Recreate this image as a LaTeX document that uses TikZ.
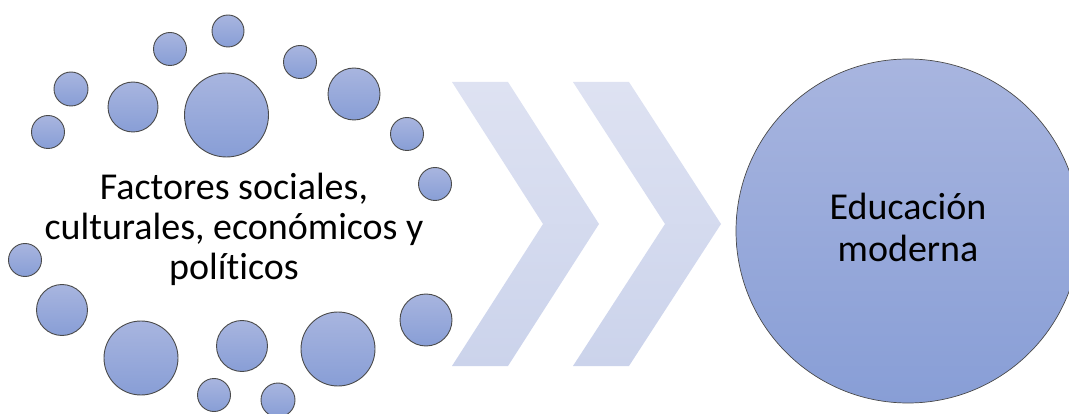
\documentclass[tikz,border=0pt]{standalone}
\usepackage{fontspec}
\setmainfont[Ligatures=NoCommon]{Carlito}
\definecolor{ctop}{HTML}{A8B5DF}
\definecolor{cbot}{HTML}{889ED6}
\definecolor{chtop}{HTML}{DEE2F2}
\definecolor{chbot}{HTML}{CBD3EB}
\definecolor{cline}{HTML}{4A4A4A}
\begin{document}
\begin{tikzpicture}[x=1pt,y=-1pt,
  bub/.style={circle,inner sep=0pt,minimum size=#1,draw=cline,line width=0.9pt,top color=ctop,bottom color=cbot},
  chev/.style={top color=chtop,bottom color=chbot,draw=none}]
\useasboundingbox (0,0) rectangle (1069,414);
% small bubbles
\node[bub=33pt] (c1) at (48,132) {};
\node[bub=34pt] (c2) at (71,89) {};
\node[bub=50pt] (c3) at (133,107) {};
\node[bub=33pt] (c4) at (170,49) {};
\node[bub=32pt] (c5) at (228,31) {};
\node[bub=84pt] (c6) at (226.5,115) {};
\node[bub=33pt] (c7) at (300,62) {};
\node[bub=52pt] (c8) at (354,94) {};
\node[bub=33pt] (c9) at (407,134) {};
\node[bub=33pt] (c10) at (435,184) {};
\node[bub=33pt] (c11) at (25,260) {};
\node[bub=51pt] (c12) at (62,310) {};
\node[bub=74pt] (c13) at (141,358) {};
\node[bub=51pt] (c14) at (242,346) {};
\node[bub=33pt] (c15) at (214,395) {};
\node[bub=34pt] (c16) at (278,400) {};
\node[bub=74pt] (c17) at (338,349) {};
\node[bub=52pt] (c18) at (426,320) {};
% chevrons
\path[chev] (452,82) -- (508,82) -- (599,224) -- (508,366) -- (452,366) -- (543,224) -- cycle;
\path[chev] (573,82) -- (629,82) -- (721,224) -- (629,366) -- (573,366) -- (665,224) -- cycle;
% left text
\node[align=center,inner sep=0pt,font=\fontsize{38}{40}\selectfont] (left) at (234,229.5)
  {Factores sociales,\\culturales, económicos y\\políticos};
% big circle
\begin{scope}
\clip (0,0) rectangle (1069,414);
\node[circle,inner sep=0pt,minimum size=344pt,draw=cline,line width=0.7pt,top color=ctop,bottom color=cbot] (edu) at (908,231) {};
\end{scope}
\node[align=center,inner sep=0pt,font=\fontsize{38}{41.5}\selectfont] (edutext) at (908,227.5)
  {Educación\\moderna};
\end{tikzpicture}
\end{document}
